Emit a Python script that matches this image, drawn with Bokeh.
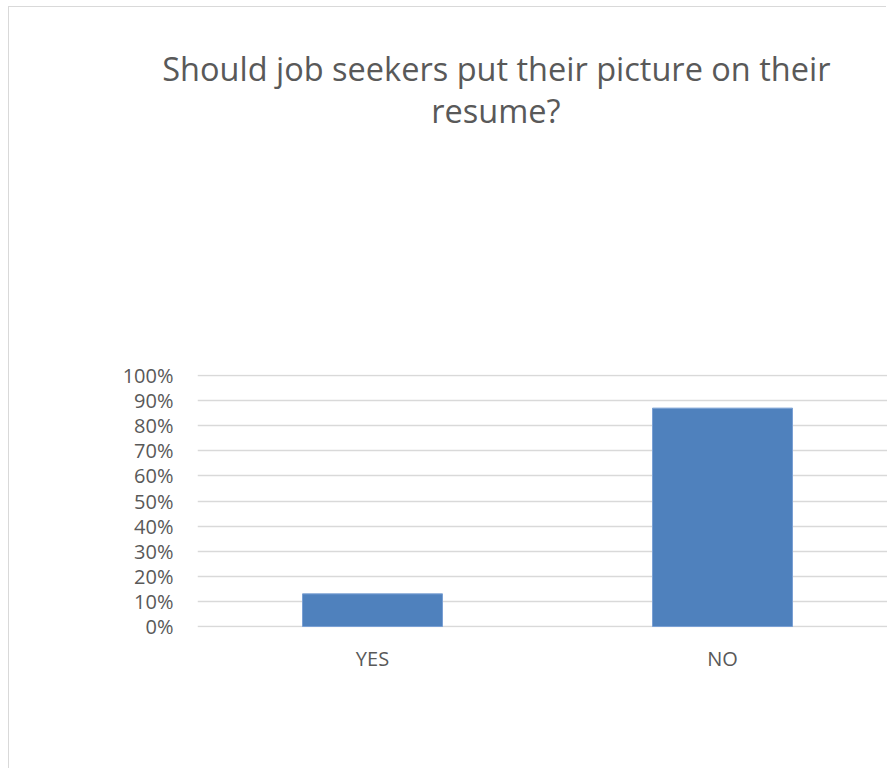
from bokeh.plotting import figure
from bokeh.models import ColumnDataSource, Range1d, FixedTicker, NumeralTickFormatter, Title
from bokeh.embed import file_html
from bokeh.resources import INLINE

# ---- data ----
categories = ["YES", "NO"]
shares = [0.13, 0.87]
y_ticks = [0.0, 0.1, 0.2, 0.3, 0.4, 0.5, 0.6, 0.7, 0.8, 0.9, 1.0]
title_lines = ["Should job seekers put their picture on their", "resume?"]

positions = [i + 0.5 for i in range(len(categories))]
src = ColumnDataSource(dict(x=positions, top=shares, cat=categories))

FONT = "Open Sans"
GREY = "#595959"

FIG_W = 878
FIG_H = 762
PX_PER_CAT = 350.0
LEFT = 188
FRAME_W = FIG_W - LEFT

p = figure(
    width=FIG_W, height=FIG_H,
    x_range=Range1d(0, FRAME_W / PX_PER_CAT),
    y_range=Range1d(-0.004, 1.004),
    output_backend="svg", toolbar_location=None, title_location=None,
    min_border_left=LEFT, min_border_right=0,
    min_border_top=0, min_border_bottom=142,
    margin=(7, 0, 0, 9),
    styles={"box-shadow": "-1px -1px 0 0 #d9d9d9"},
)
p.outline_line_color = None
p.background_fill_color = "white"
p.border_fill_color = "white"


def title_item(text, offset, standoff):
    return Title(text=text, align="right", offset=offset, standoff=standoff,
                 text_font=FONT, text_font_size="32.5px", text_color=GREY,
                 text_font_style="normal")


# the "above" panel is stacked outward from the plot: spacer, line 2, line 1, spacer
p.add_layout(title_item(" ", 0, 200), "above")
p.add_layout(title_item(title_lines[1], 327, -10), "above")
p.add_layout(title_item(title_lines[0], 57, 0), "above")
p.add_layout(title_item(" ", 0, -11), "above")

p.vbar(x="x", top="top", bottom=0, width=0.4, source=src,
       fill_color="#4f81bd", line_color="#7aa0d4", line_width=1)

p.xaxis.ticker = FixedTicker(ticks=positions)
p.xaxis.major_label_overrides = {pos: c for pos, c in zip(positions, categories)}
p.xaxis.axis_line_color = None
p.xaxis.major_tick_line_color = None
p.xaxis.minor_tick_line_color = None
p.xaxis.major_label_text_font = FONT
p.xaxis.major_label_text_font_size = "20px"
p.xaxis.major_label_text_color = GREY
p.xaxis.major_label_standoff = 11

p.yaxis.ticker = FixedTicker(ticks=y_ticks)
p.yaxis.formatter = NumeralTickFormatter(format="0%")
p.yaxis.axis_line_color = None
p.yaxis.major_tick_line_color = None
p.yaxis.minor_tick_line_color = None
p.yaxis.major_label_text_font = FONT
p.yaxis.major_label_text_font_size = "20px"
p.yaxis.major_label_text_color = GREY
p.yaxis.major_label_standoff = 18

p.xgrid.grid_line_color = None
p.ygrid.grid_line_color = "#d9d9d9"
p.ygrid.grid_line_width = 1.3

open("out.html", "w").write(file_html(p, INLINE))
